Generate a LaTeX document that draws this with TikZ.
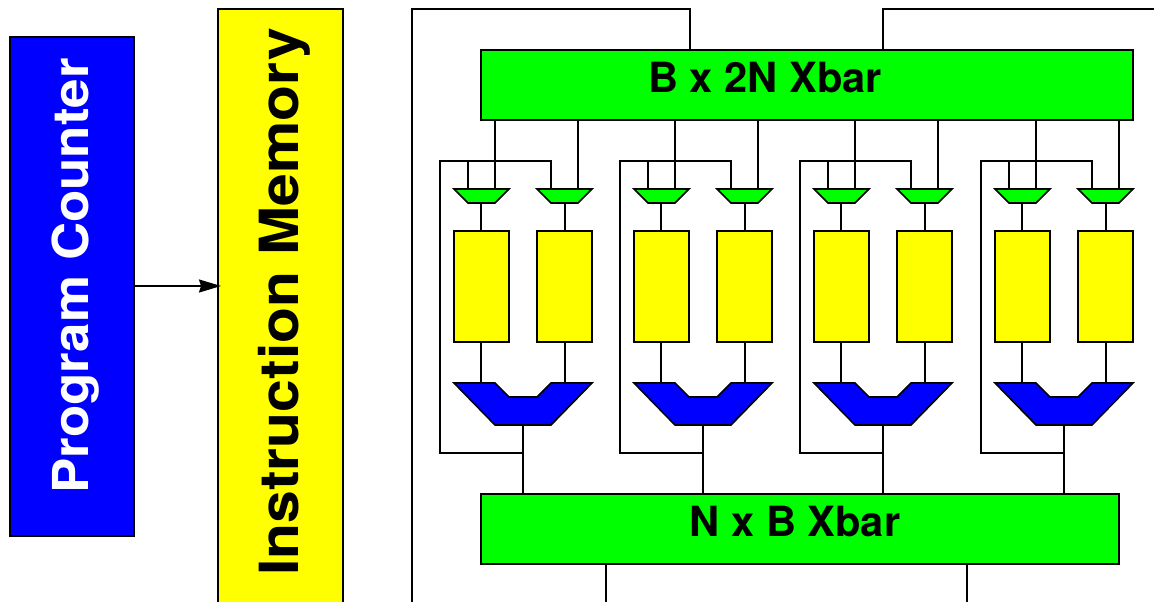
\documentclass[tikz,border=0pt]{standalone}
\usepackage{fontspec}
\setmainfont{TeX Gyre Heros}
\usetikzlibrary{arrows.meta}
\definecolor{regyellow}{RGB}{255,255,0}
\definecolor{muxblue}{RGB}{0,0,255}
\definecolor{barlime}{RGB}{0,255,0}
\tikzset{
    wire/.style = {draw=black, line width=1.6pt},
    block/.style = {rectangle, draw=black, line width=1.6pt, inner sep=0pt},
    pc_box/.style = {block, fill=muxblue, minimum width=124pt, minimum height=499pt},
    imem_box/.style = {block, fill=regyellow, minimum width=125pt, minimum height=606pt},
    xbar_box/.style = {block, fill=barlime, minimum height=70pt},
    reg_box/.style = {block, fill=regyellow, minimum width=55pt, minimum height=111pt},
    in_mux/.style = {draw=black, fill=barlime, line width=1.6pt, line join=miter},
    out_mux/.style = {draw=black, fill=muxblue, line width=1.6pt, line join=miter},
    bigtext/.style = {font=\fontsize{41.6}{41.6}\selectfont\bfseries}
}
\begin{document}
\begin{tikzpicture}[x=1pt,y=-1pt]
    \useasboundingbox (0,0) rectangle (1154,602);
    % left column
    \node [pc_box] (pc) at (72,286.5) {};
    \node [imem_box] (imem) at (280.5,312) {};
    \node [rotate=90, xscale=1.07, white, font=\fontsize{49.5}{49.5}\selectfont\bfseries] (pclabel) at (76,276) {Program Counter};
    \node [rotate=90, xscale=1.09, font=\fontsize{54}{54}\selectfont\bfseries] (imlabel) at (284,302) {Instruction Memory};
    \coordinate (imem_in) at (221,286);
    \draw [wire,-{Stealth[length=22pt,width=13pt,inset=2pt]}] (pc.east |- imem_in) -- (imem_in);
    % crossbars
    \node [xbar_box, minimum width=652pt] (topbar) at (807,85) {};
    \node [bigtext] (toplabel) at (765,78) {B x 2N Xbar};
    \node [xbar_box, minimum width=638pt] (botbar) at (800,529) {};
    \node [bigtext] (botlabel) at (795,522) {N x B Xbar};
    % outer wires
    \coordinate (frame0) at (412,610);
    \coordinate (frame1) at (412,9);
    \coordinate (frame2) at (690,9);
    \coordinate (frame3) at (883,9);
    \coordinate (frame4) at (1160,9);
    \coordinate (out0) at (606,610);
    \coordinate (out1) at (967,610);
    \draw [wire] (frame0) -- (frame1) -- (frame2) -- (frame2 |- topbar.north);
    \draw [wire] (frame3 |- topbar.north) -- (frame3) -- (frame4);
    \draw [wire] (out0 |- botbar.south) -- (out0);
    \draw [wire] (out1 |- botbar.south) -- (out1);
    % one slice per bank
    \foreach \i/\x in {0/0, 1/180, 2/360, 3/541} {
        \begin{scope}[xshift=\x pt]
            \node [reg_box] (rega\i) at (481.5,286.5) {};
            \node [reg_box] (regb\i) at (564.5,286.5) {};
            \coordinate (fb\i) at (523,453);
            \coordinate (cornera\i) at (440,453);
            \coordinate (cornerb\i) at (440,161);
            \coordinate (cornerc\i) at (551,161);
            \coordinate (tap\i) at (467.8,161);
            \coordinate (ina\i) at (495,120);
            \coordinate (inb\i) at (578,120);
            \coordinate (dm\i) at (523,425);
            \coordinate (muxa\i) at (481.2,203);
            \coordinate (muxb\i) at (564.7,203);
            \coordinate (joina\i) at (481.2,383);
            \coordinate (joinb\i) at (564.7,383);
            \draw [wire] (ina\i) -- (ina\i |- 0,189);
            \draw [wire] (inb\i) -- (inb\i |- 0,189);
            \draw [wire] (fb\i) -- (cornera\i) -- (cornerb\i) -- (cornerc\i) -- (cornerc\i |- 0,189);
            \draw [wire] (tap\i) -- (tap\i |- 0,189);
            \draw [wire] (muxa\i) -- (muxa\i |- rega\i.north);
            \draw [wire] (muxb\i) -- (muxb\i |- regb\i.north);
            \draw [wire] (joina\i |- rega\i.south) -- (joina\i);
            \draw [wire] (joinb\i |- regb\i.south) -- (joinb\i);
            \draw [wire] (dm\i) -- (dm\i |- botbar.north);
            \draw [in_mux] (454,189) -- (509,189) -- (495,203) -- (468,203) -- cycle;
            \draw [in_mux] (537,189) -- (592,189) -- (578,203) -- (551,203) -- cycle;
            \draw [out_mux] (454,383) -- (495,383) -- (509,397) -- (537,397) -- (551,383)
                -- (592,383) -- (551,425) -- (495,425) -- cycle;
        \end{scope}
    }
\end{tikzpicture}
\end{document}
